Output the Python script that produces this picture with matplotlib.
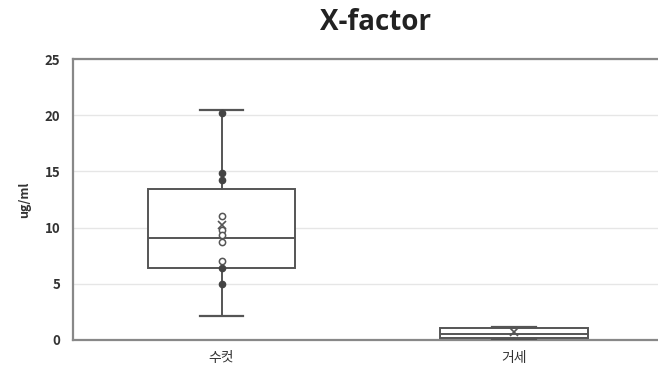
import matplotlib.pyplot as plt

plt.rcParams['font.family'] = ['Noto Sans CJK KR', 'DejaVu Sans']

groups = ['수컷', '거세']
whislo = [2.1, 0.1]
q1 = [6.4, 0.2]
med = [9.1, 0.5]
q3 = [13.4, 1.04]
whishi = [20.5, 1.13]
means = [10.2, 0.68]

# inner points of the male group (filled look darker in the source)
male_filled = [20.2, 14.9, 14.2, 6.4, 5.0]
male_open = [11.0, 9.8, 9.3, 8.7, 7.0]

yticks = [0, 5, 10, 15, 20, 25]

fig = plt.figure(figsize=(6.58, 3.79), dpi=100)
ax = fig.add_axes([0.111, 0.103, 0.892, 0.741])

stats = []
for i in range(len(groups)):
    stats.append(dict(label=groups[i], whislo=whislo[i], q1=q1[i], med=med[i],
                      q3=q3[i], whishi=whishi[i], mean=means[i], fliers=[]))

edge = '#555555'
ax.bxp(stats, positions=[1, 2], widths=0.505, showmeans=True, patch_artist=True,
       boxprops=dict(facecolor='white', edgecolor=edge, linewidth=1.4),
       medianprops=dict(color=edge, linewidth=1.4),
       whiskerprops=dict(color=edge, linewidth=1.4),
       capprops=dict(color=edge, linewidth=1.6),
       capwidths=0.15,
       meanprops=dict(marker='x', markeredgecolor=edge, markersize=6, markeredgewidth=1.2),
       zorder=3)

ax.plot([1] * len(male_filled), male_filled, 'o', color='#444444', markersize=4.5, zorder=4)
ax.plot([1] * len(male_open), male_open, 'o', markerfacecolor='white',
        markeredgecolor='#555555', markersize=4.5, markeredgewidth=1.1, zorder=4)

ax.set_xlim(0.493, 2.497)
ax.set_ylim(0, 25)
ax.set_yticks(yticks)
ax.yaxis.grid(True, color='#e6e6e6', linewidth=1)
ax.set_axisbelow(True)
ax.tick_params(length=0)
ax.tick_params(axis='y', pad=9, labelsize=9.5, labelcolor='#333333')
ax.tick_params(axis='x', pad=8, labelsize=10, labelcolor='#333333')
for lab in ax.get_yticklabels():
    lab.set_fontweight('bold')

for s in ['left', 'top', 'bottom']:
    ax.spines[s].set_color('#888888')
    ax.spines[s].set_linewidth(1.6)
ax.spines['right'].set_visible(False)

ax.set_ylabel('ug/ml', fontsize=9, fontweight='bold', color='#333333', labelpad=10)
fig.text(0.57, 0.94, 'X-factor', ha='center', va='center', fontsize=20,
         fontweight='bold', color='#222222', family=['Open Sans', 'DejaVu Sans'])

fig.savefig('out.png', dpi=100)
